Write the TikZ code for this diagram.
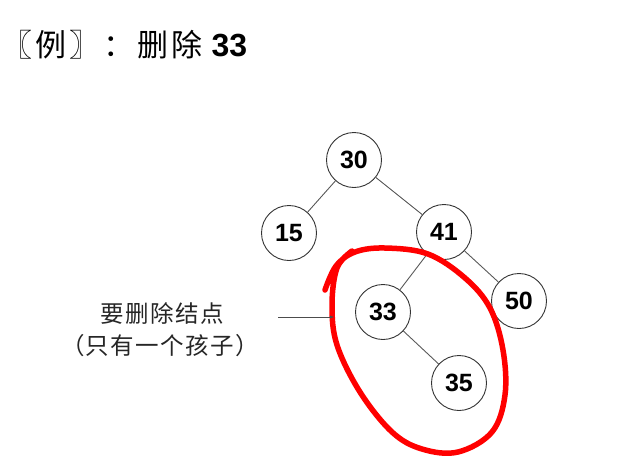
\documentclass[tikz,border=0pt]{standalone}
\usepackage{fontspec}
\setsansfont{Liberation Sans}
\newfontfamily\cjk{Noto Sans CJK SC}
\usetikzlibrary{arrows.meta}
\begin{document}
\begin{tikzpicture}[x=1pt,y=-1pt,
    keynode/.style={draw=black!80,circle,minimum size=55pt,inner sep=0pt,line width=0.9pt,
      font=\fontsize{25}{25}\selectfont\sffamily\bfseries},
    treeedge/.style={draw=black!65,line width=0.9pt},
    notetext/.style={font=\fontsize{23.5}{23.5}\selectfont\cjk\addfontfeature{LetterSpace=6},text=black!85}]
    \useasboundingbox (0,0) rectangle (641,467);

    % title
    \node[anchor=west,inner sep=0pt,font=\fontsize{31}{31}\selectfont] (title) at (1,45)
        {{\cjk\addfontfeature{LetterSpace=10}〖例〗：删除}\hspace{9pt}{\fontsize{32}{32}\selectfont\sffamily\bfseries 33}};

    % tree
    \node[keynode] (n30) at (354,160) {30};
    \node[keynode] (n15) at (289,233) {15};
    \node[keynode] (n41) at (444,232) {41};
    \node[keynode] (n33) at (383,312) {33};
    \node[keynode] (n35) at (459,383) {35};
    \node[keynode] (n50) at (519,301) {50};
    \draw[treeedge] (n30) -- (n15);
    \draw[treeedge] (n30) -- (n41);
    \draw[treeedge] (n41) -- (n33);
    \draw[treeedge] (n41) -- (n50);
    \draw[treeedge] (n33) -- (n35);

    % red loop round the subtree
    \draw[red,line width=5.5pt,line cap=round,line join=round]
        plot[smooth,tension=0.6] coordinates {(325,290) (336,266) (355,252) (385,248)
        (428,254) (465,278) (490,308) (503,350) (505,395) (492,432) (458,452)
        (422,449) (392,432) (360,392) (337,345) (332,305) (337,268) (352,251)};

    % note
    \node[notetext] (note1) at (162,313) {要删除结点};
    \node[notetext] (note2) at (160,346) {（只有一个孩子）};
    \coordinate (pstart) at (278,317);
    \coordinate (pend) at (334,317);
    \draw[black!70,-{Latex[length=4pt,width=3pt]}] (pstart) -- (pend);
\end{tikzpicture}
\end{document}
